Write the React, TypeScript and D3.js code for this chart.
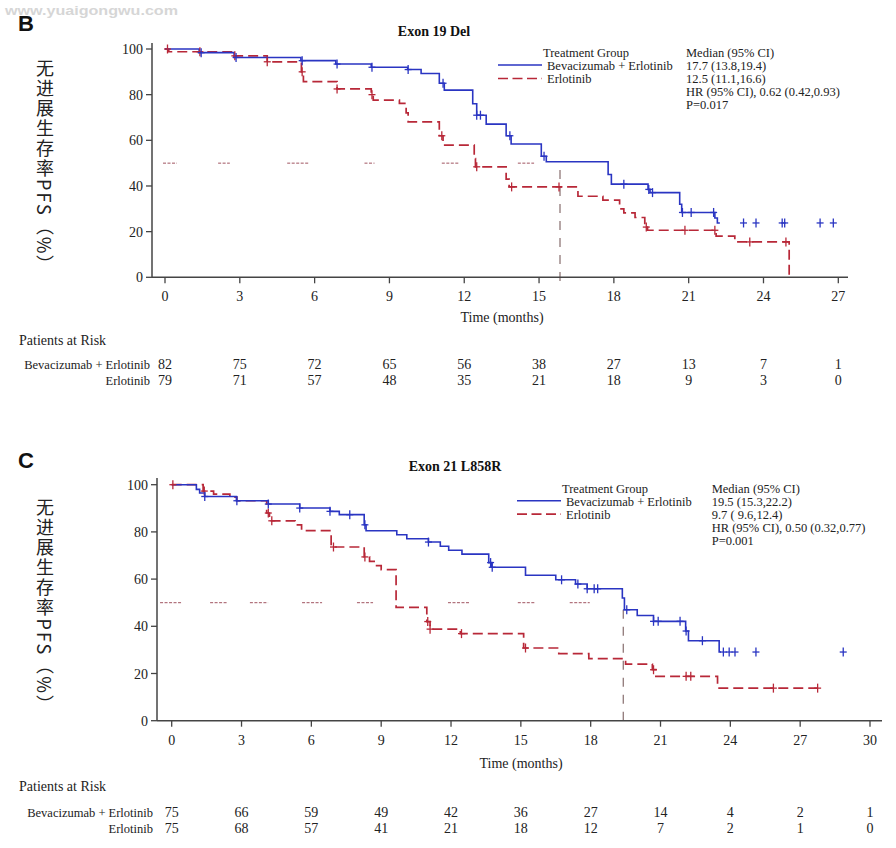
import React from 'react';
import * as d3 from 'd3';

const SERIF = "'Liberation Serif', 'Times New Roman', serif";
const SANS = "'Liberation Sans', Arial, sans-serif";
const CJK = "'Noto Sans CJK SC', 'Noto Sans', sans-serif";
const BLUE = '#2a35c2';
const RED = '#b82838';

type Step = [number, number];

// ---------- Panel B : Exon 19 Del ----------
const bTitle = 'Exon 19 Del';
const bTicks = [0, 3, 6, 9, 12, 15, 18, 21, 24, 27];
const bBevSteps: Step[] = [
  [0, 100], [1.37, 98.4], [2.77, 96.3], [5.45, 94.9], [6.85, 93.4], [8.27, 92],
  [9.73, 91], [10.27, 89.3], [11.0, 85], [11.2, 82], [12.34, 76], [12.5, 71],
  [12.88, 67.1], [13.68, 62], [13.88, 58.4], [15.09, 53], [15.29, 50.6],
  [17.77, 45], [17.9, 40.8], [19.37, 38.5], [19.45, 37.1], [20.64, 32],
  [20.72, 28.4], [22.05, 26], [22.15, 23.8],
];
const bBevEnd = 22.25;
const bBevCensor = [1.45, 2.85, 5.5, 6.9, 8.3, 9.75, 11.15, 12.5, 12.65, 13.83, 15.2, 18.4, 19.4, 19.55, 20.75, 21.1, 22.0];
const bBevTail = [23.2, 23.7, 24.75, 24.85, 26.27, 26.8];
const bErlSteps: Step[] = [
  [0, 100], [0.15, 98.8], [2.77, 97], [4.1, 94.4], [5.47, 90], [5.55, 85.7],
  [6.9, 82.5], [8.27, 80], [8.35, 77.6], [9.4, 76.2], [9.67, 72], [9.75, 68.1],
  [11.0, 62], [11.15, 57.9], [12.4, 52], [12.45, 48.4], [13.68, 43], [13.8, 39.6],
  [16.56, 35.5], [17.56, 33.8], [18.23, 30], [18.4, 28.2], [18.85, 26.2],
  [19.24, 22], [19.35, 20.6], [22.1, 18], [22.85, 15.5], [25.03, 0],
];
const bErlEnd = 25.03;
const bErlCensor = [0.1, 1.4, 2.8, 4.1, 5.5, 6.9, 8.3, 11.1, 12.5, 13.9, 15.8, 19.3, 20.85, 22.05, 23.45, 24.9];
const bRiskBev = [82, 75, 72, 65, 56, 38, 27, 13, 7, 1];
const bRiskErl = [79, 71, 57, 48, 35, 21, 18, 9, 3, 0];
const bStats = ['Median (95% CI)', '17.7 (13.8,19.4)', '12.5 (11.1,16.6)', 'HR (95% CI), 0.62 (0.42,0.93)', 'P=0.017'];
const bMedianFrags: [number, number][] = [[-0.08, 0.48], [2.13, 2.6], [4.9, 5.8], [8.0, 8.4], [11.1, 11.8], [14.15, 14.8]];
const bMedianDrop = 15.84;

// ---------- Panel C : Exon 21 L858R ----------
const cTitle = 'Exon 21 L858R';
const cTicks = [0, 3, 6, 9, 12, 15, 18, 21, 24, 27, 30];
const cBevSteps: Step[] = [
  [0, 100], [1.06, 98], [1.2, 96.5], [1.42, 95], [2.78, 93.2], [4.15, 91.8],
  [5.5, 90.1], [6.8, 88.7], [7.2, 87.3], [8.27, 83], [8.35, 80.5], [9.67, 78.8],
  [10.1, 77.1], [11.03, 75.7], [11.54, 73.9], [11.9, 72.2], [12.47, 70.6],
  [13.62, 67], [13.75, 65], [15.2, 61.6], [16.5, 59.7], [17.35, 57.9],
  [17.85, 55.9], [19.36, 52], [19.45, 47], [20.0, 44.6], [20.7, 42.1],
  [22.08, 38], [22.2, 33.9], [23.52, 29.1],
];
const cBevEnd = 23.6;
const cBevCensor = [1.42, 2.8, 4.15, 5.5, 6.8, 7.65, 8.3, 11.03, 13.7, 13.77, 16.75, 17.45, 17.85, 18.15, 18.3, 19.55, 20.7, 20.9, 21.84, 22.1, 22.8];
const cBevTail = [23.7, 23.95, 24.2, 25.1, 28.85];
const cErlSteps: Step[] = [
  [0, 100], [1.35, 97.3], [1.8, 96], [2.5, 94.7], [2.8, 93.2], [4.08, 88],
  [4.2, 84.7], [5.3, 83], [5.58, 80.5], [6.85, 73.6], [8.27, 69.4], [8.5, 67.5],
  [8.74, 65.7], [9.0, 64], [9.64, 48], [10.96, 42], [11.1, 38.8], [12.4, 36.9],
  [15.12, 30.8], [16.63, 28.4], [17.92, 26.3], [19.5, 24], [20.65, 21.6],
  [20.8, 18.8], [23.45, 13.8],
];
const cErlEnd = 27.75;
const cErlCensor = [0.05, 1.4, 4.15, 4.3, 6.95, 8.3, 11.0, 11.1, 12.45, 15.2, 20.7, 22.1, 22.3, 25.85, 27.75];
const cRiskBev = [75, 66, 59, 49, 42, 36, 27, 14, 4, 2, 1];
const cRiskErl = [75, 68, 57, 41, 21, 18, 12, 7, 2, 1, 0];
const cStats = ['Median (95% CI)', '19.5 (15.3,22.2)', '9.7 ( 9.6,12.4)', 'HR (95% CI), 0.50 (0.32,0.77)', 'P=0.001'];
const cMedianFrags: [number, number][] = [[-0.5, 0.44], [1.65, 2.42], [3.36, 4.14], [5.6, 6.46], [7.96, 8.65], [11.87, 12.81], [14.87, 15.6], [17.1, 17.96]];
const cMedianDrop = 19.4;

const groupNames = ['Bevacizumab + Erlotinib', 'Erlotinib'];
const yTicks = [0, 20, 40, 60, 80, 100];
const yLabel = '无进展生存率PFS（%）';

function survAt(steps: Step[], t: number) {
  let v = steps[0][1];
  for (const [ti, vi] of steps) if (ti <= t) v = vi;
  return v;
}

interface Layout {
  letter: string; letterY: number;
  x0: number; x1: number; tmax: number; y0: number; y100: number;
  axisX: number; axisTop: number; axisRight: number;
  titleX: number; titleY: number;
  legX: number; legY: number; statX: number;
  xlabX: number; xlabY: number;
  riskTitleY: number; riskY1: number; riskY2: number; riskLabelX: number;
}

interface PanelData {
  title: string; ticks: number[];
  bev: Step[]; bevEnd: number; bevCensor: number[]; bevTail: number[];
  erl: Step[]; erlEnd: number; erlCensor: number[];
  riskBev: number[]; riskErl: number[]; stats: string[];
  frags: [number, number][]; drop: number;
}

function Panel({ L, D }: { L: Layout; D: PanelData }) {
  const x = d3.scaleLinear().domain([0, L.tmax]).range([L.x0, L.x1]);
  const y = d3.scaleLinear().domain([0, 100]).range([L.y0, L.y100]);
  const line = d3.line<Step>().x(d => x(d[0])).y(d => y(d[1])).curve(d3.curveStepAfter);
  const path = (steps: Step[], end: number) => {
    const pts: Step[] = [...steps, [end, steps[steps.length - 1][1]]];
    return line(pts) || '';
  };
  const cross = (t: number, v: number, color: string, key: string) => (
    <g key={key} stroke={color} strokeWidth={1.3}>
      <line x1={x(t)} x2={x(t)} y1={y(v) - 4.5} y2={y(v) + 4.5} />
      <line x1={x(t) - 3.5} x2={x(t) + 3.5} y1={y(v)} y2={y(v)} />
    </g>
  );
  const bevLast = D.bev[D.bev.length - 1][1];
  const midY = (L.y0 + L.y100) / 2 + 4;
  return (
    <g>
      <text x={18} y={L.letterY} fontFamily={SANS} fontWeight="bold" fontSize={22} fill="#111">{L.letter}</text>
      <text x={45} y={midY} fontFamily={CJK} fontSize={18} fill="#222" textAnchor="middle" letterSpacing={2}
        style={{ writingMode: 'vertical-rl' } as any}>{yLabel}</text>
      <text x={L.titleX} y={L.titleY} fontFamily={SERIF} fontWeight="bold" fontSize={14} textAnchor="middle" fill="#111">{D.title}</text>

      {/* median reference fragments */}
      {D.frags.map((f, i) => (
        <line key={'f' + i} x1={x(f[0])} x2={x(f[1])} y1={y(50)} y2={y(50)} stroke="#8a2a3a" strokeWidth={1} strokeDasharray="3,1.5" opacity={0.8} />
      ))}
      <line x1={x(D.drop)} x2={x(D.drop)} y1={y(47)} y2={L.y0 + 8} stroke="#6a4a4a" strokeWidth={1.2} strokeDasharray="9,8" opacity={0.8} />

      {/* axes */}
      <line x1={L.axisX} x2={L.axisX} y1={L.axisTop} y2={L.y0} stroke="#444" strokeWidth={1.5} />
      <line x1={L.axisX} x2={L.axisRight} y1={L.y0} y2={L.y0} stroke="#444" strokeWidth={1.5} />
      {yTicks.map(v => (
        <g key={'y' + v}>
          <line x1={L.axisX - 6} x2={L.axisX} y1={y(v)} y2={y(v)} stroke="#444" strokeWidth={1.3} />
          <text x={L.axisX - 9} y={y(v) + 5} fontFamily={SERIF} fontSize={14} textAnchor="end" fill="#222">{v}</text>
        </g>
      ))}
      {D.ticks.map(t => (
        <g key={'x' + t}>
          <line x1={x(t)} x2={x(t)} y1={L.y0} y2={L.y0 + 6} stroke="#444" strokeWidth={1.3} />
          <text x={x(t)} y={L.y0 + 24} fontFamily={SERIF} fontSize={14} textAnchor="middle" fill="#222">{t}</text>
        </g>
      ))}
      <text x={L.xlabX} y={L.xlabY} fontFamily={SERIF} fontSize={14} textAnchor="middle" fill="#222">Time (months)</text>

      {/* curves */}
      <path d={path(D.erl, D.erlEnd)} fill="none" stroke={RED} strokeWidth={1.7} strokeDasharray="10,5" />
      <path d={path(D.bev, D.bevEnd)} fill="none" stroke={BLUE} strokeWidth={1.6} />
      {D.erlCensor.map((t, i) => cross(t, survAt(D.erl, t), RED, 'ec' + i))}
      {D.bevCensor.map((t, i) => cross(t, survAt(D.bev, t), BLUE, 'bc' + i))}
      {D.bevTail.map((t, i) => cross(t, bevLast, BLUE, 'bt' + i))}

      {/* legend */}
      <text x={L.legX + 45} y={L.legY} fontFamily={SERIF} fontSize={12.5} fill="#222">Treatment Group</text>
      <line x1={L.legX} x2={L.legX + 44} y1={L.legY + 8} y2={L.legY + 8} stroke={BLUE} strokeWidth={1.6} />
      <text x={L.legX + 49} y={L.legY + 13} fontFamily={SERIF} fontSize={12.5} fill="#222">{groupNames[0]}</text>
      <line x1={L.legX} x2={L.legX + 44} y1={L.legY + 21.5} y2={L.legY + 21.5} stroke={RED} strokeWidth={1.7} strokeDasharray="10,4.5" />
      <text x={L.legX + 49} y={L.legY + 26} fontFamily={SERIF} fontSize={12.5} fill="#222">{groupNames[1]}</text>
      {D.stats.map((s, i) => (
        <text key={'s' + i} x={L.statX} y={L.legY + i * 13} fontFamily={SERIF} fontSize={12.5} fill="#222" style={{ whiteSpace: 'pre' }}>{s}</text>
      ))}

      {/* risk table */}
      <text x={19} y={L.riskTitleY} fontFamily={SERIF} fontSize={14} fill="#222">Patients at Risk</text>
      <text x={L.riskLabelX} y={L.riskY1} fontFamily={SERIF} fontSize={12.5} textAnchor="end" fill="#222">{groupNames[0]}</text>
      <text x={L.riskLabelX} y={L.riskY2} fontFamily={SERIF} fontSize={12.5} textAnchor="end" fill="#222">{groupNames[1]}</text>
      {D.riskBev.map((n, i) => (
        <text key={'rb' + i} x={x(D.ticks[i])} y={L.riskY1} fontFamily={SERIF} fontSize={14} textAnchor="middle" fill="#222">{n}</text>
      ))}
      {D.riskErl.map((n, i) => (
        <text key={'re' + i} x={x(D.ticks[i])} y={L.riskY2} fontFamily={SERIF} fontSize={14} textAnchor="middle" fill="#222">{n}</text>
      ))}
    </g>
  );
}

const layoutB: Layout = {
  letter: 'B', letterY: 31,
  x0: 165, x1: 838.3, tmax: 27, y0: 277.3, y100: 49,
  axisX: 152, axisTop: 43, axisRight: 848,
  titleX: 434, titleY: 36,
  legX: 498, legY: 57, statX: 686,
  xlabX: 502, xlabY: 322,
  riskTitleY: 345, riskY1: 369, riskY2: 385, riskLabelX: 150,
};
const layoutC: Layout = {
  letter: 'C', letterY: 468,
  x0: 171.7, x1: 870, tmax: 30, y0: 720.7, y100: 484.7,
  axisX: 157, axisTop: 478, axisRight: 882,
  titleX: 455, titleY: 471,
  legX: 517, legY: 492.7, statX: 711.7,
  xlabX: 521, xlabY: 768,
  riskTitleY: 791, riskY1: 817, riskY2: 833, riskLabelX: 153,
};

const dataB: PanelData = {
  title: bTitle, ticks: bTicks, bev: bBevSteps, bevEnd: bBevEnd, bevCensor: bBevCensor, bevTail: bBevTail,
  erl: bErlSteps, erlEnd: bErlEnd, erlCensor: bErlCensor, riskBev: bRiskBev, riskErl: bRiskErl,
  stats: bStats, frags: bMedianFrags, drop: bMedianDrop,
};
const dataC: PanelData = {
  title: cTitle, ticks: cTicks, bev: cBevSteps, bevEnd: cBevEnd, bevCensor: cBevCensor, bevTail: cBevTail,
  erl: cErlSteps, erlEnd: cErlEnd, erlCensor: cErlCensor, riskBev: cRiskBev, riskErl: cRiskErl,
  stats: cStats, frags: cMedianFrags, drop: cMedianDrop,
};

export default function App() {
  return (
    <svg width={896} height={848} style={{ position: 'absolute', left: 0, top: 0, background: '#fff' }}>
      <rect width={896} height={848} fill="#fff" />
      <text x={5} y={15} fontFamily={SANS} fontWeight="bold" fontSize={13} fill="#d6d6d6" textLength={173} lengthAdjust="spacingAndGlyphs">www.yuaigongwu.com</text>
      <Panel L={layoutB} D={dataB} />
      <Panel L={layoutC} D={dataC} />
    </svg>
  );
}
